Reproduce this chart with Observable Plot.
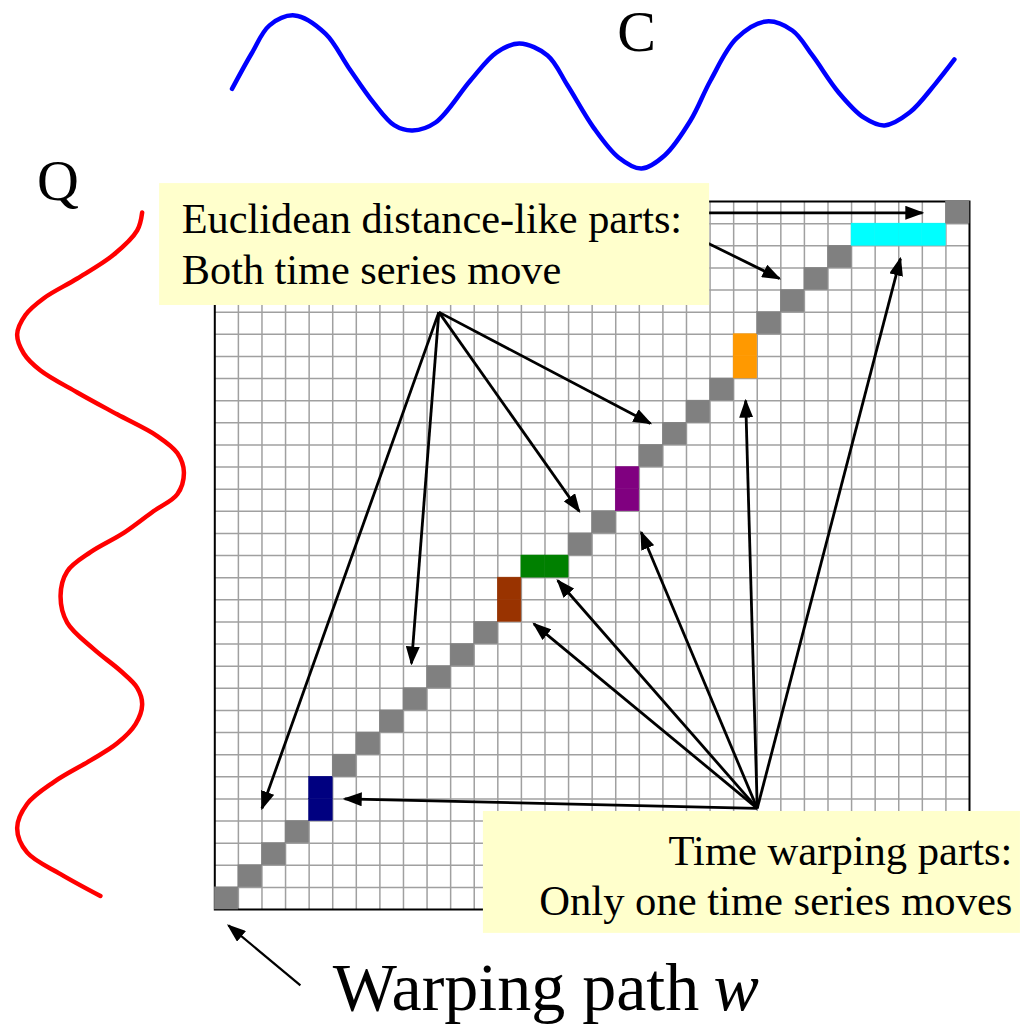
<!DOCTYPE html>
<html><head><meta charset="utf-8">
<script src="https://cdn.jsdelivr.net/npm/d3@7"></script>
<script src="https://cdn.jsdelivr.net/npm/@observablehq/plot@0.6"></script>
<style>html,body{margin:0;padding:0;background:#fff;} #chart{width:1033px;height:1027px;}</style>
</head><body><div id="chart"></div>
<script>
// ---- data (grid units: columns = C index, rows = Q index) ----
const gridSize = 32;
const pathCol = [0,1,2,3,4,4,5,6,7,8,9,10,11,12,12,13,14,15,16,17,17,18,19,20,21,22,22,23,24,25,26,27,28,29,30,31];
const pathRow = [0,1,2,3,4,5,6,7,8,9,10,11,12,13,14,15,15,16,17,18,19,20,21,22,23,24,25,26,27,28,29,30,30,30,30,31];
const pathKind = ["d","d","d","d","navy","navy","d","d","d","d","d","d","d","brown","brown","green","green","d","d","purple","purple","d","d","d","d","orange","orange","d","d","d","d","cyan","cyan","cyan","cyan","d"];
const kindColor = {d:"#808080", navy:"#000080", brown:"#993300", green:"#008000", purple:"#800080", orange:"#ff9900", cyan:"#00ffff"};

const cX = [0.73,1.56,2.32,3.38,4.69,5.67,6.73,7.62,8.38,9.36,10.84,11.94,12.92,14.11,14.96,16.06,17.12,18.09,19.07,20.17,21.02,22.12,23.39,24.49,25.34,26.45,27.51,28.40,29.46,30.56,31.36];
const cY = [37.09,38.69,39.96,40.41,39.59,38.06,36.47,35.44,35.21,35.57,37.47,38.73,39.14,38.60,37.24,35.34,33.99,33.49,34.08,35.66,37.47,39.37,40.14,39.73,38.60,36.93,35.80,35.44,36.02,37.33,38.42];
const qX = [-3.08,-3.29,-4.28,-5.83,-7.25,-8.03,-8.38,-8.10,-7.39,-5.83,-4.14,-2.44,-1.59,-1.31,-1.59,-2.59,-3.86,-5.27,-6.26,-6.54,-6.26,-5.13,-4.00,-3.29,-3.08,-3.36,-4.14,-5.27,-6.83,-7.96,-8.38,-7.96,-6.54,-4.85];
const qY = [31.50,30.69,29.60,28.52,27.63,26.87,25.99,25.13,24.36,23.37,22.38,21.40,20.63,19.76,18.77,18.01,17.02,16.15,15.28,14.18,12.97,11.77,10.79,10.02,9.26,8.38,7.51,6.74,5.76,4.77,3.68,2.58,1.60,0.61];

// arrows: [x1, y1, x2, y2]
const euclidArrows = [[9.5,27,2.0,4.57],[9.5,27,8.34,11.12],[9.5,27,15.45,18.0],[9.5,27,18.47,21.97],[20.0,31.49,30.0,31.49],[20.5,30.33,23.94,28.52]];
const warpArrows = [[23.0,4.57,5.51,5.0],[23.0,4.57,13.53,12.91],[23.0,4.57,14.54,14.87],[23.0,4.57,18.08,17.05],[23.0,4.57,22.51,23.0],[23.0,4.57,29.07,29.42]];
const pathArrow = [[3.63,-3.43,0.58,-0.72]];

const labels = {
  euclid: "Euclidean distance-like parts:\nBoth time series move",
  warp: "Time warping parts:\nOnly one time series moves",
  c: "C", q: "Q", path: "Warping path", w: "w"
};

// ---- build ----
const cells = pathCol.map((c, k) => ({i: c, j: pathRow[k], color: kindColor[pathKind[k]]}));
const cPts = cX.map((x, k) => ({x, y: cY[k]}));
const qPts = qX.map((x, k) => ({x, y: qY[k]}));
const toLink = a => ({x1: a[0], y1: a[1], x2: a[2], y2: a[3]});
const boxes = [{x1: -2.34, x2: 20.98, y1: 27.30, y2: 32.81}, {x1: 11.39, x2: 34.16, y1: -1.08, y2: 4.43}];
const serif = "'Liberation Serif', 'Times New Roman', serif";

const svg = Plot.plot({
  width: 1033, height: 1027,
  marginLeft: 214.3, marginRight: 64, marginTop: 201, marginBottom: 118,
  x: {domain: [0, gridSize], axis: null},
  y: {domain: [0, gridSize], axis: null},
  color: {type: "identity"},
  style: {background: "white"},
  marks: [
    Plot.ruleX(d3.range(1, gridSize), {y1: 0, y2: gridSize, stroke: "#a0a0a0", strokeWidth: 1.5}),
    Plot.ruleY(d3.range(1, gridSize), {x1: 0, x2: gridSize, stroke: "#a0a0a0", strokeWidth: 1.5}),
    Plot.frame({stroke: "black", strokeWidth: 2}),
    Plot.rect(cells, {x1: "i", x2: d => d.i + 1, y1: "j", y2: d => d.j + 1, fill: "color", stroke: "color", strokeWidth: 0.5}),
    Plot.line(cPts, {x: "x", y: "y", stroke: "#0000ff", strokeWidth: 4.5, curve: "catmull-rom"}),
    Plot.line(qPts, {x: "x", y: "y", stroke: "#ff0000", strokeWidth: 4.5, curve: "catmull-rom"}),
    Plot.link(euclidArrows.map(toLink), {x1: "x1", y1: "y1", x2: "x2", y2: "y2", stroke: "black", strokeWidth: 2.8, markerEnd: "arrow"}),
    Plot.link(warpArrows.map(toLink), {x1: "x1", y1: "y1", x2: "x2", y2: "y2", stroke: "black", strokeWidth: 2.8, markerEnd: "arrow"}),
    Plot.link(pathArrow.map(toLink), {x1: "x1", y1: "y1", x2: "x2", y2: "y2", stroke: "black", strokeWidth: 2.2, markerEnd: "arrow"}),
    Plot.rect(boxes, {x1: "x1", x2: "x2", y1: "y1", y2: "y2", fill: "#ffffcc"}),
    Plot.text([labels.euclid], {x: -1.40, y: 28.29, text: d => d, textAnchor: "start", lineAnchor: "bottom", lineHeight: 1.19, fontSize: 42.3, fontFamily: serif, fill: "black"}),
    Plot.text([labels.warp], {x: 33.82, y: -0.27, text: d => d, textAnchor: "end", lineAnchor: "bottom", lineHeight: 1.19, fontSize: 42.6, fontFamily: serif, fill: "black"}),
    Plot.text([labels.c], {x: 17.88, y: 38.78, text: d => d, lineAnchor: "bottom", fontSize: 58, fontFamily: serif, fill: "black"}),
    Plot.text([labels.q], {x: -6.65, y: 32.09, text: d => d, lineAnchor: "bottom", fontSize: 58, fontFamily: serif, fill: "black"}),
    Plot.text([labels.path], {x: 5.0, y: -4.52, text: d => d, textAnchor: "start", lineAnchor: "bottom", fontSize: 68, fontFamily: serif, fill: "black"}),
    Plot.text([labels.w], {x: 21.15, y: -4.52, text: d => d, textAnchor: "start", lineAnchor: "bottom", fontSize: 68, fontStyle: "italic", fontFamily: serif, fill: "black"})
  ]
});

// filled triangular arrowheads
svg.querySelectorAll("marker").forEach(m => {
  const col = m.getAttribute("stroke") || "black";
  m.setAttribute("viewBox", "-17 -7 19 14");
  m.setAttribute("markerUnits", "userSpaceOnUse");
  m.setAttribute("markerWidth", 19);
  m.setAttribute("markerHeight", 14);
  m.setAttribute("refX", 0);
  m.setAttribute("refY", 0);
  m.setAttribute("fill", col);
  m.setAttribute("stroke", "none");
  while (m.firstChild) m.removeChild(m.firstChild);
  const p = document.createElementNS("http://www.w3.org/2000/svg", "path");
  p.setAttribute("d", "M-17,-7L2,0L-17,7Z");
  m.appendChild(p);
});

document.getElementById("chart").appendChild(svg);
</script></body></html>
